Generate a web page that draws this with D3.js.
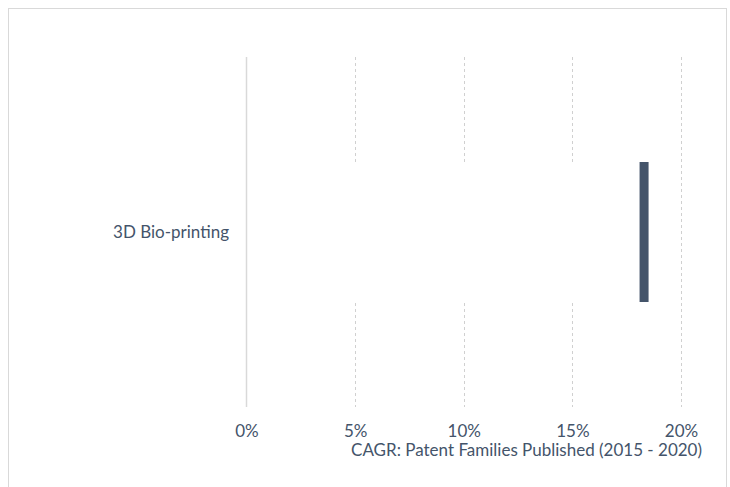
<!DOCTYPE html>
<html>
<head>
<meta charset="utf-8">
<script src="https://cdn.jsdelivr.net/npm/d3@7"></script>
<style>
  body { margin: 0; background: #fff; }
  svg text { font-family: Lato, "Open Sans", sans-serif; fill: #44546a; }
</style>
</head>
<body>
<div id="chart"></div>
<script>
const categories = ["3D Bio-printing"];
const cagr = [0.183];
const tickValues = [0, 0.05, 0.10, 0.15, 0.20];
const axisTitle = "CAGR: Patent Families Published (2015 - 2020)";

(function cagrChart() {
  const width = 730,
    height = 487;

  const svg = d3.select("#chart")
    .append("svg")
    .attr("width", width)
    .attr("height", height);

  // outer frame (bottom edge falls outside the window)
  svg.append("rect")
    .attr("x", 8.5).attr("y", 8.5)
    .attr("width", 718).attr("height", 490)
    .attr("fill", "none")
    .attr("stroke", "#d9d9d9");

  const x = d3.scaleLinear()
    .domain([0, 0.2])
    .range([246.5, 681]);

  const y = d3.scaleBand()
    .domain(categories)
    .range([57, 407])
    .paddingInner(0.6)
    .paddingOuter(0.3);

  // dashed gridlines
  svg.append("g")
    .selectAll("line")
    .data(tickValues.slice(1))
    .join("line")
    .attr("x1", d => Math.round(x(d)) + 0.5)
    .attr("x2", d => Math.round(x(d)) + 0.5)
    .attr("y1", 57)
    .attr("y2", 407)
    .attr("stroke", "#d0d0d0")
    .attr("stroke-dasharray", "3,3");

  // white bar hides the grid behind it
  svg.append("g")
    .selectAll("rect")
    .data(categories)
    .join("rect")
    .attr("x", x(0))
    .attr("y", d => y(d))
    .attr("width", (d, i) => x(cagr[i]) - x(0))
    .attr("height", y.bandwidth())
    .attr("fill", "#fff");

  // end marker
  svg.append("g")
    .selectAll("rect")
    .data(categories)
    .join("rect")
    .attr("x", (d, i) => x(cagr[i]) - 4.5)
    .attr("y", d => y(d))
    .attr("width", 9)
    .attr("height", y.bandwidth())
    .attr("fill", "#44546a");

  // zero axis
  svg.append("line")
    .attr("x1", x(0)).attr("x2", x(0))
    .attr("y1", 57).attr("y2", 407)
    .attr("stroke", "#d9d9d9")
    .attr("stroke-width", 1.5);

  const xAxis = svg.append("g")
    .attr("transform", "translate(0,437)")
    .call(d3.axisBottom(x)
      .tickValues(tickValues)
      .tickFormat(d3.format(".0%"))
      .tickSize(0)
      .tickPadding(0));
  xAxis.select(".domain").remove();
  xAxis.selectAll("text")
    .attr("dy", "0")
    .style("font-size", "17px");

  svg.append("text")
    .attr("x", 702)
    .attr("y", 456)
    .attr("text-anchor", "end")
    .style("font-size", "17px")
    .text(axisTitle);

  svg.append("g")
    .selectAll("text")
    .data(categories)
    .join("text")
    .attr("x", 229)
    .attr("y", d => y(d) + y.bandwidth() / 2)
    .attr("dy", "0.35em")
    .attr("text-anchor", "end")
    .style("font-size", "17px")
    .text(d => d);
})();
</script>
</body>
</html>
